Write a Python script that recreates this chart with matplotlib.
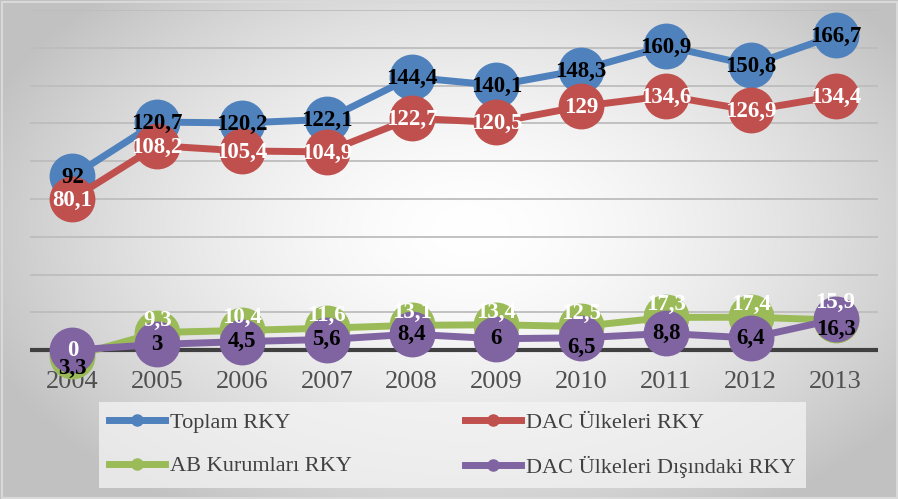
import numpy as np
import matplotlib
matplotlib.use("Agg")
import matplotlib.pyplot as plt
from matplotlib.lines import Line2D

plt.rcParams["font.family"] = ["Liberation Serif", "DejaVu Serif"]

YEARS = ["2004", "2005", "2006", "2007", "2008", "2009", "2010", "2011", "2012", "2013"]
TOPLAM = [92, 120.7, 120.2, 122.1, 144.4, 140.1, 148.3, 160.9, 150.8, 166.7]
DAC = [80.1, 108.2, 105.4, 104.9, 122.7, 120.5, 129, 134.6, 126.9, 134.4]
AB = [-3.3, 9.3, 10.4, 11.6, 13.1, 13.4, 12.5, 17.3, 17.4, 15.9]
DIS = [0, 3, 4.5, 5.6, 8.4, 6, 6.5, 8.8, 6.4, 16.3]
NAMES = ["Toplam RKY", "DAC Ülkeleri RKY", "AB Kurumları RKY", "DAC Ülkeleri Dışındaki RKY"]

BLUE = "#4F81BD"; RED = "#C0504D"; GREEN = "#9BBB59"; PURPLE = "#8064A2"

W, H = 898, 499
fig = plt.figure(figsize=(W / 100, H / 100), dpi=100)

# radial grey-to-white background
bg = fig.add_axes([0, 0, 1, 1], zorder=-10)
yy, xx = np.mgrid[0:H, 0:W]
d = np.sqrt(((xx - 470) / 520.0) ** 2 + ((yy - 230) / 330.0) ** 2)
shade = 1.0 - 0.24 * np.clip(d, 0, 1) ** 1.6
bg.imshow(np.dstack([shade] * 3), extent=[0, W, H, 0], aspect="auto")
bg.add_patch(plt.Rectangle((1.5, 1.5), W - 3, H - 3, fill=False, ec="#d9d9d9", lw=1.5))
bg.set_xlim(0, W); bg.set_ylim(H, 0); bg.axis("off")

ax = fig.add_axes([30 / W, 1 - 372 / H, 848 / W, 362 / H])
ax.set_facecolor("none")
x = np.arange(len(YEARS))
ax.set_xlim(-0.5, len(YEARS) - 0.5)
ax.set_ylim(-11.6, 180)
ax.set_yticks(np.arange(20, 181, 20))
ax.yaxis.grid(True, color="#bdbdbd", lw=1.3, zorder=0)
ax.tick_params(axis="y", left=False, labelleft=False)
ax.set_xticks(x, YEARS)
ax.tick_params(axis="x", length=0, pad=-1, labelsize=19, labelcolor="#505050")
for s in ax.spines.values():
    s.set_visible(False)
ax.axhline(0, color="#404040", lw=3, zorder=1)


def fmt(v):
    return f"{abs(v):g}".replace(".", ",")


series = [(TOPLAM, BLUE, "black"), (DAC, RED, "white"), (AB, GREEN, "white"), (DIS, PURPLE, "black")]
for i, (vals, col, tc) in enumerate(series):
    ax.plot(x, vals, color=col, lw=5, marker="o", ms=32, mec=col, zorder=3 + i, clip_on=False)

# label offsets in points (dy), per series
offs = {2: 9, 3: 0}
for i, (vals, col, tc) in enumerate(series):
    for j, v in enumerate(vals):
        dy = offs.get(i, -1)
        c = tc
        if i == 2 and j == 0:
            dy, c = -9, "black"
        if i == 3 and j == 0:
            c = "white"
        if i == 2 and j == 9:
            dy = 13
        if i == 3 and j in (9, 6):
            dy = -7
        ax.annotate(fmt(v), (x[j], v), xytext=(0, dy), textcoords="offset points",
                    ha="center", va="center", fontsize=16.5, fontweight="bold",
                    color=c, zorder=10 + (1 if (i == 2 and j == 0) else 0))

handles = [Line2D([], [], color=c, lw=5, marker="o", ms=8) for c in (BLUE, GREEN, RED, PURPLE)]
labels = [NAMES[0], NAMES[2], NAMES[1], NAMES[3]]
leg = fig.legend(handles, labels, loc="upper left", bbox_to_anchor=(99 / W, 1 - 402 / H),
                 ncol=2, fontsize=16, handlelength=2.5, handletextpad=0.25,
                 columnspacing=5.1, labelspacing=1.05, borderpad=0.45, borderaxespad=0,
                 frameon=True, fancybox=False)
leg.get_frame().set_facecolor("#f4f4f4")
leg.get_frame().set_alpha(0.75)
leg.get_frame().set_edgecolor("none")
for t in leg.get_texts():
    t.set_color("#404040")

fig.savefig("out.png", dpi=100)
